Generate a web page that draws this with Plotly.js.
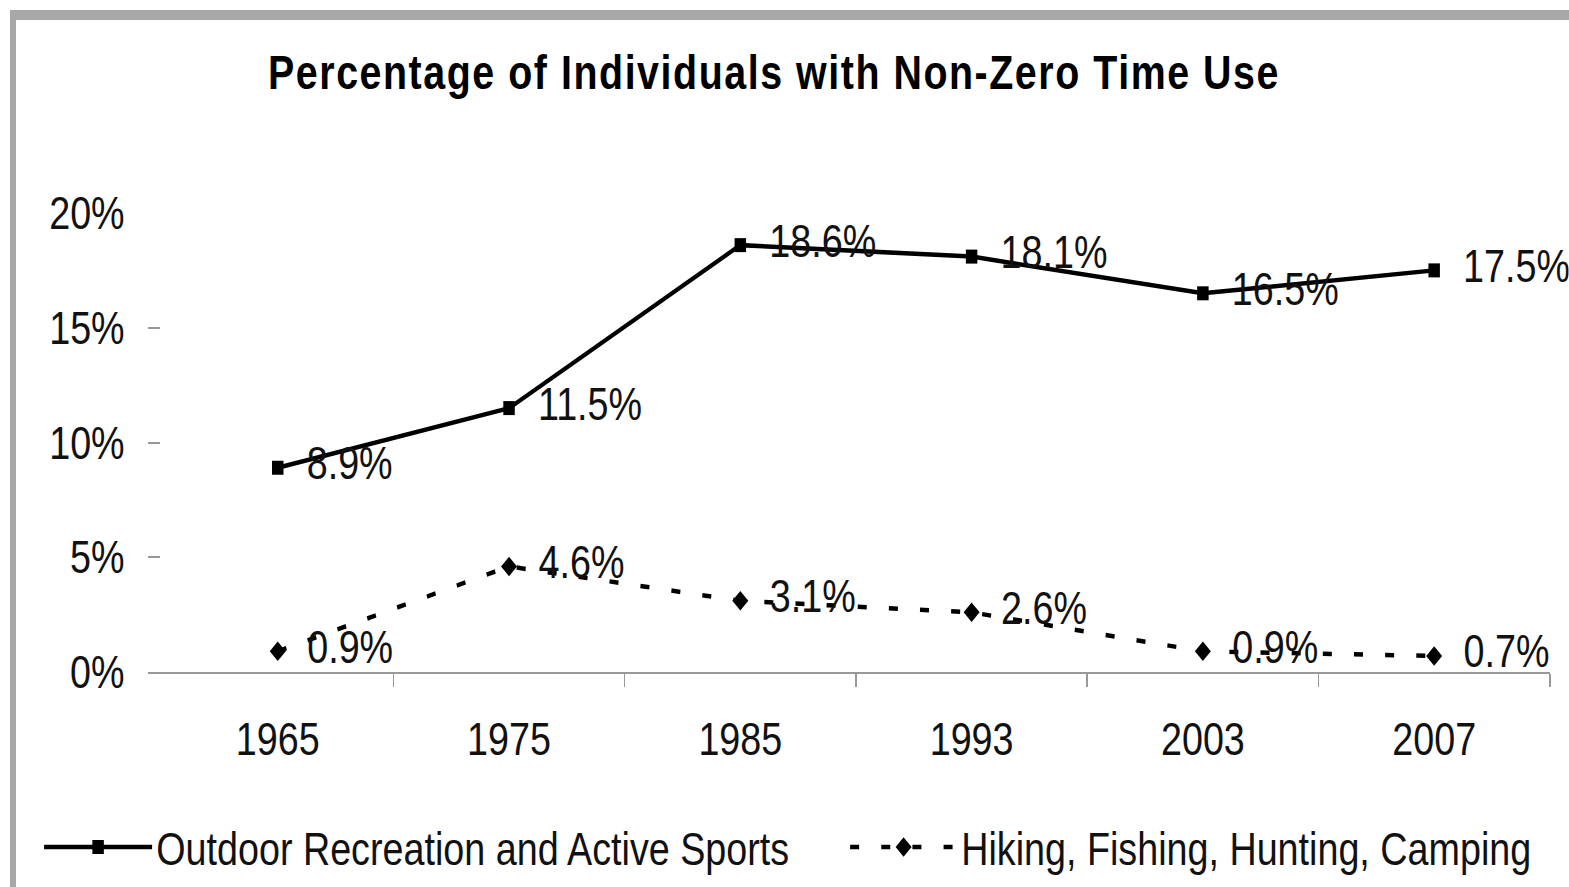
<!DOCTYPE html>
<html>
<head>
<meta charset="utf-8">
<script src="https://cdn.plot.ly/plotly-3.0.1.min.js"></script>
<style>
  html, body { margin: 0; padding: 0; background: #fff; overflow: hidden; }
  #wrap { position: absolute; left: 0; top: 0; width: 1569px; height: 887px; overflow: hidden; }
  #chart { position: absolute; left: 0; top: 0; transform-origin: 0 0; }
  #chart .gtitle { letter-spacing: 1.9px; }
  .frame-top { position: absolute; left: 10px; top: 10px; width: 1559px; height: 10px; background: #a8a8a8; }
  .frame-left { position: absolute; left: 10px; top: 10px; width: 6px; height: 877px; background: #a8a8a8; }
</style>
</head>
<body>
<div id="wrap"><div id="chart"></div></div>
<div class="frame-top"></div>
<div class="frame-left"></div>
<script>
const years = ['1965', '1975', '1985', '1993', '2003', '2007'];
const outdoorValues = [8.9, 11.5, 18.6, 18.1, 16.5, 17.5];
const hikingValues = [0.9, 4.6, 3.1, 2.6, 0.9, 0.7];
const seriesNames = ['Outdoor Recreation and Active Sports', 'Hiking, Fishing, Hunting, Camping'];
const yTickVals = [0, 5, 10, 15, 20];
const yTickText = ['0%', '5%', '10%', '15%', '20%'];

// horizontal condensing of the whole drawing (reference text is narrow)
const SX = 0.82;
const W = 1569, H = 887;
const PW = W / SX;           // plotly drawing width before condensing
const px = v => v / SX;      // reference x-pixels -> plotly x-pixels

const FONT = '"Liberation Sans", Arial, sans-serif';
const FS = 46;

const idx = years.map((_, i) => i);
const bounds = years.map((_, i) => i + 0.5);

const traces = [
  {
    x: idx, y: outdoorValues, name: seriesNames[0], type: 'scatter', mode: 'lines+markers+text',
    line: { color: '#000', width: 4.5 },
    marker: { symbol: 'square', size: 14, color: '#000' },
    texttemplate: '\u00a0\u00a0%{y:.1f}%', textposition: 'middle right',
    textfont: { family: FONT, size: FS, color: '#111' },
    cliponaxis: false, legend: 'legend'
  },
  {
    x: idx, y: hikingValues, name: seriesNames[1], type: 'scatter', mode: 'lines+markers+text',
    line: { color: '#000', width: 4.5, dash: '11px,27px' },
    marker: { symbol: 'diamond', size: 15, color: '#000' },
    texttemplate: '\u00a0\u00a0%{y:.1f}%', textposition: 'middle right',
    textfont: { family: FONT, size: FS, color: '#111' },
    cliponaxis: false, legend: 'legend2'
  }
];

const legendBase = {
  orientation: 'h', xref: 'container', yref: 'container',
  xanchor: 'left', y: 40 / H, yanchor: 'middle',
  font: { family: FONT, size: FS, color: '#111' },
  bgcolor: 'rgba(0,0,0,0)', borderwidth: 0
};

const layout = {
  width: PW, height: H,
  margin: { l: px(148), r: PW - px(1550), t: 213, b: H - 672 },
  paper_bgcolor: '#fff', plot_bgcolor: '#fff',
  font: { family: FONT, size: FS, color: '#111' },
  title: {
    text: 'Percentage of Individuals with Non-Zero Time Use',
    font: { family: FONT, size: 48, color: '#000', weight: 'bold' },
    x: 774 / W, xref: 'container', xanchor: 'center',
    y: 1 - 72 / H, yref: 'container', yanchor: 'middle'
  },
  xaxis: {
    type: 'linear', range: [-0.5 - 14.5 / 231, 5.5],
    tickvals: idx, ticktext: years, ticks: '',
    showline: true, linecolor: '#999', linewidth: 2,
    showgrid: false, zeroline: false,
    tickfont: { family: FONT, size: FS, color: '#111' },
    ticklabelstandoff: 26,
    minor: { tickvals: bounds, ticks: 'outside', ticklen: 13, tickcolor: '#999', tickwidth: 2, showgrid: false }
  },
  yaxis: {
    range: [0, 20], tickvals: yTickVals, ticktext: yTickText,
    showline: false, showgrid: false, zeroline: false,
    ticks: 'inside', ticklen: px(12), tickcolor: '#999', tickwidth: 2,
    tickfont: { family: FONT, size: FS, color: '#111' },
    ticklabelstandoff: 27
  },
  showlegend: true,
  legend: Object.assign({}, legendBase, { x: px(40) / PW, itemwidth: px(108) }),
  legend2: Object.assign({}, legendBase, { x: px(846) / PW, itemwidth: px(107) })
};

document.getElementById('chart').style.transform = 'scaleX(' + SX + ')';
Plotly.newPlot('chart', traces, layout, { displayModeBar: false, staticPlot: true });
</script>
</body>
</html>
